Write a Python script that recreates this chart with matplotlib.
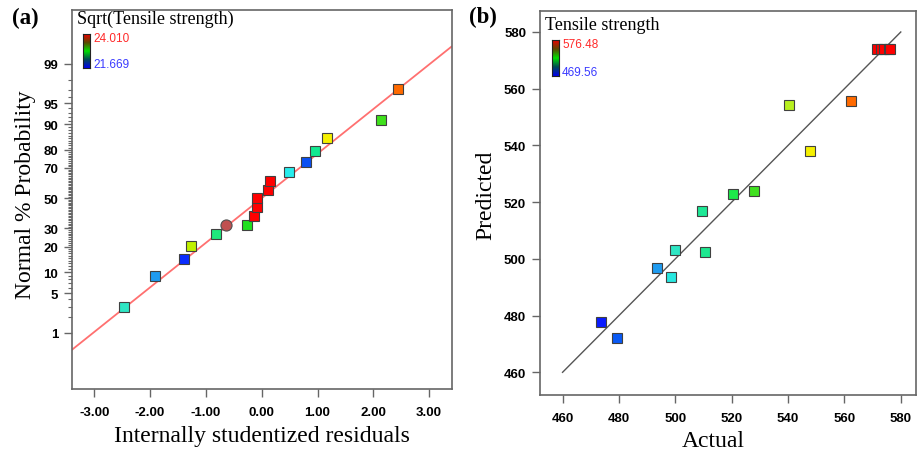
import matplotlib
matplotlib.use('Agg')
import matplotlib.pyplot as plt
import numpy as np
from statistics import NormalDist
from matplotlib.colors import LinearSegmentedColormap
from matplotlib.ticker import FixedLocator, FixedFormatter

# (a) normal plot of residuals
resid = [-2.46, -1.91, -1.39, -1.27, -0.815, -0.265, -0.14, -0.08, -0.08,
         0.106, 0.14, 0.49, 0.79, 0.95, 1.17, 2.14, 2.44]
prob = [2.94, 8.82, 14.7, 20.6, 26.5, 32.4, 38.2, 44.1, 50.0,
        55.9, 61.8, 67.6, 73.5, 79.4, 85.3, 91.2, 97.1]
colors_a = ['#2ee6c4', '#1f9bf0', '#0a2cff', '#bff000', '#1ee87c', '#20e020',
            '#ff0000', '#ff0000', '#ff0000', '#ff0000', '#ff0000', '#28ecec',
            '#0a4ff2', '#12e890', '#f5f000', '#3fe01c', '#ff6a00']
circle_resid = -0.64
circle_prob = 32.4
line_slope = 0.772   # z per residual unit
prob_ticks = [1, 5, 10, 20, 30, 50, 70, 80, 90, 95, 99]
prob_minor = [2, 3, 4] + list(range(6, 10)) + list(range(11, 90)) + [91, 92, 93, 94, 96, 97, 98]
resid_ticks = [-3, -2, -1, 0, 1, 2, 3]
sqrt_hi, sqrt_lo = '24.010', '21.669'

# (b) predicted vs actual
actual = [473.7, 479.3, 493.4, 498.4, 499.8, 509.3, 510.5, 520.3, 528.1,
          540.4, 547.9, 562.2, 571.5, 573.0, 574.0, 575.8, 576.3]
predicted = [477.6, 472.2, 496.7, 493.5, 503.2, 516.9, 502.5, 522.7, 523.9,
             554.1, 538.0, 555.6, 574.0, 574.0, 574.0, 574.0, 574.0]
colors_b = ['#0a1cff', '#0a5af5', '#1f9bf0', '#28e8e0', '#2ee6c4', '#1ee896',
            '#1ee890', '#1de84a', '#40e020', '#b8f020', '#f5f000', '#ff6a00',
            '#ff0000', '#ff0000', '#ff0000', '#ff0000', '#ff0000']
ts_hi, ts_lo = '576.48', '469.56'
b_ticks = [460, 480, 500, 520, 540, 560, 580]

W, H = 918, 456
SERIF = 'Liberation Serif'
SANS = 'Liberation Sans'

nd = NormalDist()
_inv = np.vectorize(lambda v: nd.inv_cdf(v / 100.0), otypes=[float])
_cdf = np.vectorize(lambda v: nd.cdf(v) * 100.0, otypes=[float])

def forward(p):
    p = np.clip(np.asarray(p, dtype=float), 1e-9, 100 - 1e-9)
    return _inv(p)

def inverse(z):
    return _cdf(np.asarray(z, dtype=float))

def box(x0, y0, x1, y1):
    return [x0 / W, 1 - y1 / H, (x1 - x0) / W, (y1 - y0) / H]

cmap = LinearSegmentedColormap.from_list('de', ['#0000ee', '#004a55', '#00e000', '#5a4a00', '#ee0000'])

def legend_bar(x0, y0, x1, y1, hi, lo):
    cax = fig.add_axes(box(x0, y0, x1, y1))
    cax.imshow(np.linspace(1, 0, 100).reshape(-1, 1), cmap=cmap, aspect='auto')
    cax.set_xticks([])
    cax.set_yticks([])
    for s in cax.spines.values():
        s.set_color('#222222')
        s.set_linewidth(0.8)
    fig.text((x1 + 3) / W, 1 - (y0 + 4) / H, hi, color='#ff2a2a', fontsize=8.5,
             family=SANS, va='center', ha='left')
    fig.text((x1 + 3) / W, 1 - (y1 - 4) / H, lo, color='#3a3aff', fontsize=8.5,
             family=SANS, va='center', ha='left')

def style_axes(ax):
    for s in ax.spines.values():
        s.set_color('#666666')
        s.set_linewidth(1.2)
    ax.tick_params(which='major', length=6, width=1, color='#666666', pad=4,
                   labelsize=9.5)
    ax.tick_params(axis='x', which='major', pad=6)
    ax.tick_params(which='minor', length=3, width=0.8, color='#666666')
    for lab in ax.get_xticklabels() + ax.get_yticklabels():
        lab.set_fontweight('bold')
        lab.set_family(SANS)

fig = plt.figure(figsize=(W / 100, H / 100), dpi=100)

# ---- panel (a)
ax1 = fig.add_axes(box(72, 11, 452, 390))
ax1.set_yscale('function', functions=(forward, inverse))
xl = np.array([-3.4, 3.4])
ax1.plot(xl, inverse(line_slope * xl), color='#ff7070', lw=1.3, zorder=2)
for r, p, c in zip(resid, prob, colors_a):
    ax1.plot(r, p, 's', ms=6.5, mfc=c, mec='#404040', mew=0.8, zorder=3)
ax1.plot(circle_resid, circle_prob, 'o', ms=8, mfc='#c05050', mec='#505050', mew=0.8, zorder=4)
ax1.set_xlim(-3.4, 3.41)
ax1.set_ylim(inverse(-3.305), inverse(3.26))
ax1.yaxis.set_major_locator(FixedLocator(prob_ticks))
ax1.yaxis.set_major_formatter(FixedFormatter([str(t) for t in prob_ticks]))
ax1.yaxis.set_minor_locator(FixedLocator(prob_minor))
ax1.yaxis.set_minor_formatter(FixedFormatter([]))
ax1.set_xticks(resid_ticks)
ax1.set_xticklabels(['%.2f' % t for t in resid_ticks])
style_axes(ax1)
fig.text(262 / W, 1 - 437 / H, 'Internally studentized residuals', family=SERIF,
         fontsize=17, ha='center', va='center')
fig.text(26 / W, 1 - 195 / H, 'Normal % Probability', family=SERIF, fontsize=17,
         rotation=90, ha='center', va='center')
fig.text(12 / W, 1 - 18 / H, '(a)', family=SERIF, fontsize=16.5, fontweight='bold',
         ha='left', va='center')
fig.text(77 / W, 1 - 19 / H, 'Sqrt(Tensile strength)', family=SERIF, fontsize=13,
         ha='left', va='center')
legend_bar(83, 35, 90, 69, sqrt_hi, sqrt_lo)

# ---- panel (b)
ax2 = fig.add_axes(box(540, 12, 916, 396))
ax2.plot([460, 580], [460, 580], color='#555555', lw=1, zorder=2)
for a, p, c in zip(actual, predicted, colors_b):
    ax2.plot(a, p, 's', ms=6.5, mfc=c, mec='#404040', mew=0.8, zorder=3)
ax2.set_xlim(452, 585.4)
ax2.set_ylim(452, 587.4)
ax2.set_xticks(b_ticks)
ax2.set_yticks(b_ticks)
style_axes(ax2)
fig.text(713 / W, 1 - 442 / H, 'Actual', family=SERIF, fontsize=17,
         ha='center', va='center')
fig.text(486 / W, 1 - 195 / H, 'Predicted', family=SERIF, fontsize=17,
         rotation=90, ha='center', va='center')
fig.text(469 / W, 1 - 17 / H, '(b)', family=SERIF, fontsize=16.5, fontweight='bold',
         ha='left', va='center')
fig.text(545 / W, 1 - 26 / H, 'Tensile strength', family=SERIF, fontsize=13,
         ha='left', va='center')
legend_bar(552, 41, 559, 77, ts_hi, ts_lo)

fig.savefig('out.png', dpi=100)
